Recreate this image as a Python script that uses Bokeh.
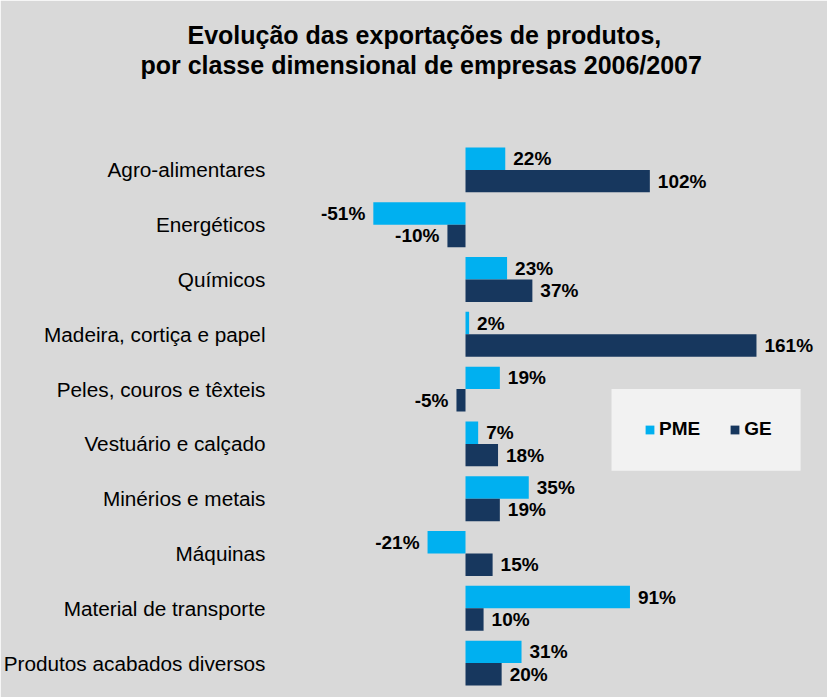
from bokeh.plotting import figure
from bokeh.models import FactorRange, Range1d, ColumnDataSource, Legend, LegendItem, Title, BoxAnnotation
from bokeh.transform import dodge
from bokeh.core.properties import value
from bokeh.embed import file_html
from bokeh.resources import INLINE

categories = ["Agro-alimentares", "Energéticos", "Químicos", "Madeira, cortiça e papel",
              "Peles, couros e têxteis", "Vestuário e calçado", "Minérios e metais",
              "Máquinas", "Material de transporte", "Produtos acabados diversos"]
pme = [22, -51, 23, 2, 19, 7, 35, -21, 91, 31]
ge = [102, -10, 37, 161, -5, 18, 19, 15, 10, 20]
series = ["PME", "GE"]
title_lines = ["Evolução das exportações de produtos,",
               "por classe dimensional de empresas 2006/2007"]

PME_COLOR = "#00b0f0"
GE_COLOR = "#17375e"
BG = "#d9d9d9"

def lbl(vals):
    return [f"{v}%" for v in vals]

src = ColumnDataSource(dict(
    cat=categories, pme=pme, ge=ge,
    pme_lbl=lbl(pme), ge_lbl=lbl(ge),
    pme_align=["left" if v >= 0 else "right" for v in pme],
    ge_align=["left" if v >= 0 else "right" for v in ge],
    pme_off=[8 if v >= 0 else -8 for v in pme],
    ge_off=[8 if v >= 0 else -8 for v in ge],
))

p = figure(width=827, height=697, output_backend="svg", toolbar_location=None,
           y_range=FactorRange(factors=categories[::-1], range_padding=0),
           x_range=Range1d(-107.9, 200.3), x_axis_location=None,
           min_border_left=270, min_border_right=0, min_border_top=142, min_border_bottom=7)
p.background_fill_color = BG
p.border_fill_color = BG
p.outline_line_color = BG
p.outline_line_width = 2
p.grid.visible = False

ax = p.yaxis[0]
ax.axis_line_color = None
ax.major_tick_line_color = None
ax.minor_tick_line_color = None
ax.major_tick_out = 0
ax.major_tick_in = 0
ax.major_label_standoff = 5
ax.major_label_text_font = "Liberation Sans"
ax.major_label_text_font_size = "20.75px"
ax.major_label_text_color = "#000000"

# legend box
p.add_layout(BoxAnnotation(left=80.8, right=185.4, bottom=4.01, top=5.5,
                           fill_color="#f2f2f2", fill_alpha=1.0, line_color=None, level="underlay"))

h = 0.41
d = 0.205
r1 = p.hbar(y=dodge("cat", d, range=p.y_range), left=0, right="pme", height=h,
            color=PME_COLOR, line_color=None, source=src)
r2 = p.hbar(y=dodge("cat", -d, range=p.y_range), left=0, right="ge", height=h,
            color=GE_COLOR, line_color=None, source=src)

for key, dd in (("pme", d), ("ge", -d)):
    p.text(x=key, y=dodge("cat", dd, range=p.y_range), text=key + "_lbl",
           text_align=key + "_align", x_offset=key + "_off", text_baseline="middle",
           text_font=value("Liberation Sans"), text_font_size="19px", text_font_style="bold",
           text_color="#000000", source=src)

legend = Legend(items=[LegendItem(label=series[0], renderers=[r1]), LegendItem(label=series[1], renderers=[r2])],
                orientation="horizontal", location=(374, 250),
                background_fill_alpha=0.0,
                border_line_color=None, padding=0, spacing=29, margin=0,
                glyph_width=11, glyph_height=11, label_standoff=4, label_height=20, label_width=40,
                label_text_font="Liberation Sans", label_text_font_size="19px",
                label_text_font_style="bold", label_text_color="#000000")
p.add_layout(legend)

# spacer between title and plot area
p.add_layout(Title(text=" ", text_font_size="1px", standoff=61, text_color=BG), "above")
p.add_layout(Title(text=title_lines[1], align="left", offset=-130, standoff=0,
                   text_font="Liberation Sans", text_font_size="25px",
                   text_font_style="bold", text_color="#000000"), "above")
p.add_layout(Title(text=title_lines[0], align="left", offset=-83, standoff=0,
                   text_font="Liberation Sans", text_font_size="25px",
                   text_font_style="bold", text_color="#000000"), "above")

open("out.html", "w").write(file_html(p, INLINE))
